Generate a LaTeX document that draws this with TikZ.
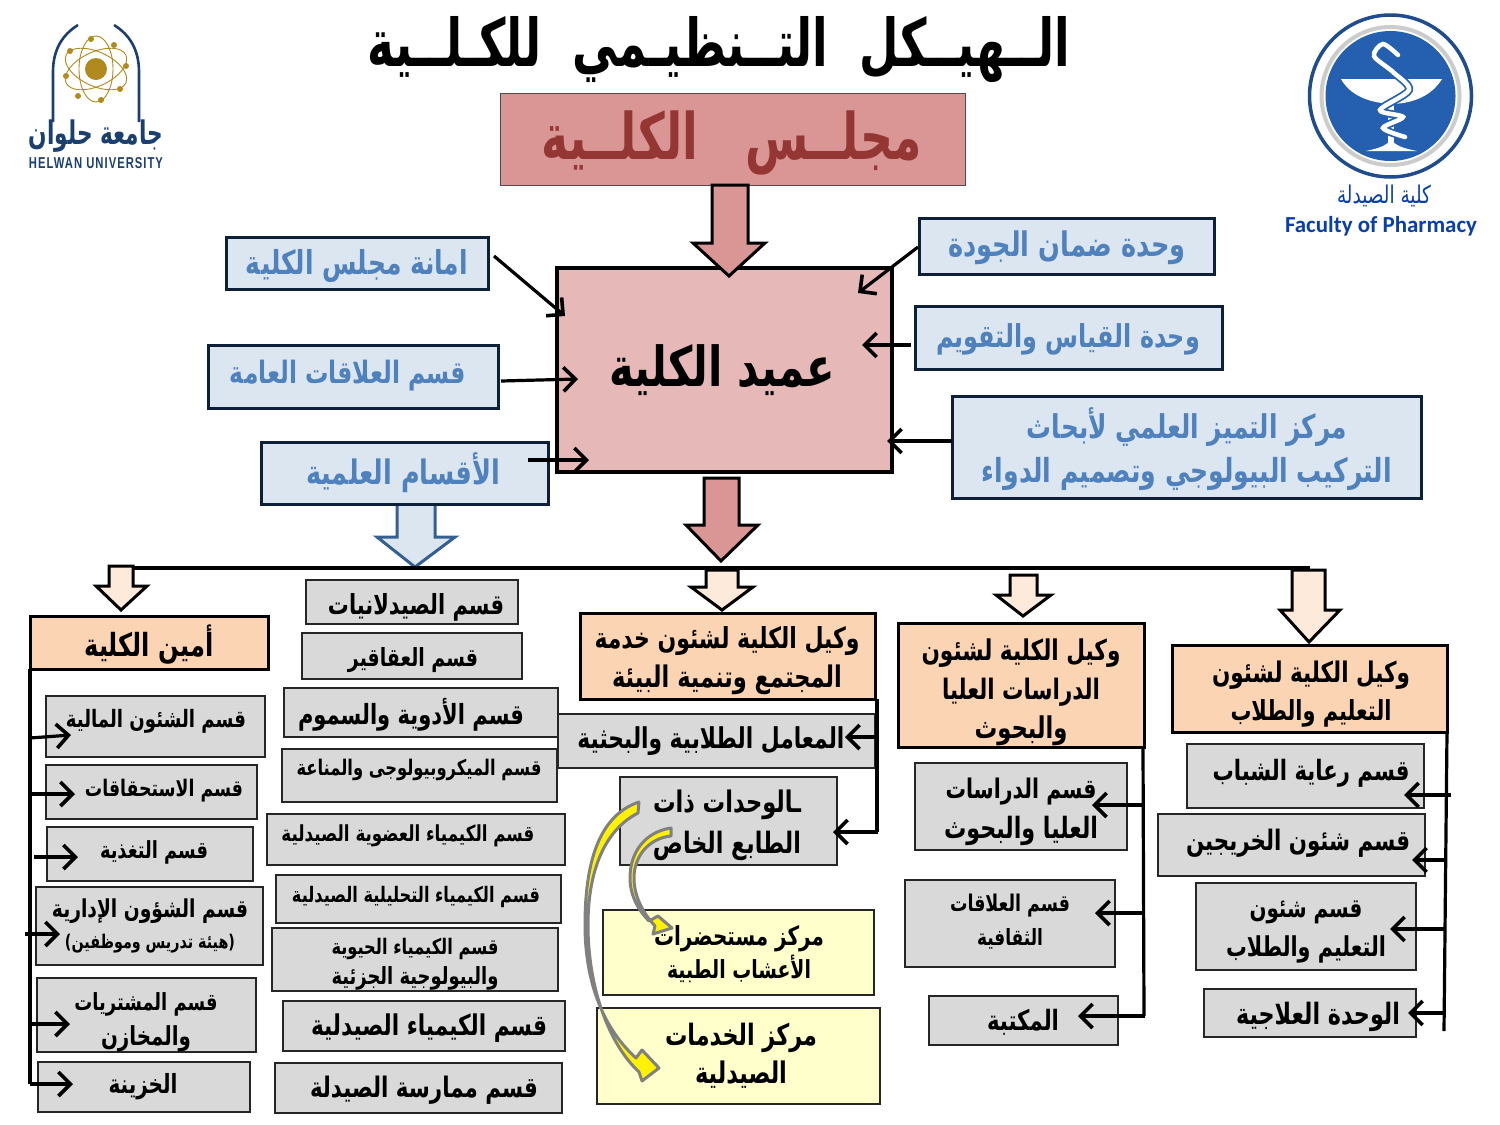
\documentclass[tikz,border=0pt]{standalone}
\usepackage{fontspec}
\usepackage{graphicx}
\usetikzlibrary{arrows.meta}
\TeXXeTstate=1
\newfontfamily\arabicfont[Script=Arabic]{DejaVu Sans}
\newfontfamily\cfont{Carlito}
\newfontfamily\lsfont[LetterSpace=9]{Liberation Sans}
\definecolor{rosefill}{HTML}{D99694}
\definecolor{deanfill}{HTML}{E6B8B7}
\definecolor{bluefill}{HTML}{DCE6F1}
\definecolor{bluetext}{HTML}{4F81BD}
\definecolor{blueedge}{HTML}{365F91}
\definecolor{darkred}{HTML}{943634}
\definecolor{orangefill}{HTML}{FBD4B4}
\definecolor{paleorange}{HTML}{FDEADA}
\definecolor{greyfill}{HTML}{D9D9D9}
\definecolor{yellowfill}{HTML}{FFFFCC}
\definecolor{navy}{HTML}{1B3F6E}
\definecolor{gold}{HTML}{B08A1E}
\definecolor{royal}{HTML}{255FB0}
\definecolor{facblue}{HTML}{0B3FA8}
\newcommand{\arb}[1]{{\arabicfont\fontsize{20}{24}\selectfont\bfseries #1}}
\newcommand{\arn}[1]{{\arabicfont\fontsize{20}{24}\selectfont #1}}
\newcommand{\fitb}[2]{\resizebox{#1pt}{!}{\scalebox{1}[1.32]{\arb{#2}}}}
\newcommand{\fitn}[2]{\resizebox{#1pt}{!}{\scalebox{1}[1.32]{\arn{#2}}}}
\newcommand{\fits}[3]{\resizebox{#2pt}{!}{\scalebox{1}[#1]{\arb{#3}}}}
\newcommand{\rows}[2]{\vbox{\baselineskip=#1pt\lineskiplimit=-1000pt\halign{\hfil##\hfil\cr #2}}}
\newcommand{\bx}[6]{%
  \pgfmathsetmacro\bxw{#5-#3}\pgfmathsetmacro\bxh{#6-#4}%
  \node[#2,minimum width=\bxw pt,minimum height=\bxh pt] (#1) at ({(#3+#5)/2},{(#4+#6)/2}) {};}
\newcommand{\conn}[5]{%
  \coordinate (#1-a) at (#2,#3); \coordinate (#1-b) at (#4,#5);
  \draw[linkline] (#1-a) -- (#1-b);}
\newcommand{\blockarrow}[9]{% style, name, x1,x2,ytop,xh1,xh2,yhead,tip
  \coordinate (#2) at (#3,#5);
  \draw[#1] (#3,#5) -- (#3,#8) -- (#6,#8) -- #9 -- (#7,#8) -- (#4,#8) -- (#4,#5) -- cycle;}
\tikzset{
  boxbase/.style={inner sep=0pt,outer sep=0pt},
  council/.style={boxbase,draw=black!70,line width=1pt,fill=rosefill},
  dean/.style={boxbase,draw=black,line width=3.5pt,fill=deanfill},
  unit/.style={boxbase,draw=navy!50!black,line width=3pt,fill=bluefill},
  vice/.style={boxbase,draw=black,line width=3pt,fill=orangefill},
  dept/.style={boxbase,draw=black!85,line width=1.4pt,fill=greyfill},
  centre/.style={boxbase,draw=black!85,line width=1.4pt,fill=yellowfill},
  txt/.style={inner sep=0pt,outer sep=0pt,text=black},
  bluetxt/.style={txt,text=bluetext},
  linkline/.style={line width=3.2pt,draw=black,-{Straight Barb[length=12pt,width=24pt,line width=3.6pt]}},
  branch/.style={line width=3.2pt,draw=black},
  rosearrow/.style={draw=black,line width=3pt,fill=rosefill,line join=miter},
  palearrow/.style={draw=black,line width=3pt,fill=paleorange,line join=miter},
  bluearrow/.style={draw=blueedge,line width=3pt,fill=bluefill,line join=miter},
  curvearrow/.style={draw=black!50,line width=3pt,fill=yellow,line join=round},
  orbit/.style={draw=gold,line width=0.9pt},
  electron/.style={fill=gold},
  snake/.style={draw=white,line width=4.5pt,line cap=round}
}
\begin{document}
\begin{tikzpicture}[x=1pt,y=-1pt]
\useasboundingbox (0,0) rectangle (1500,1125);
\fill[white] (0,0) rectangle (1500,1125);

% left logo
\draw[navy,line width=2.6pt] (78,25) .. controls (62,35) and (53,50) .. (53,72) -- (53,122);
\draw[navy,line width=2.6pt] (114,25) .. controls (130,35) and (139,50) .. (139,72) -- (139,122);
\fill[gold] (96,69) circle (11);
\foreach \a in {25,-25,90}{\draw[orbit,rotate around={\a:(96,69)}] (96,69) ellipse (33 and 17);}
\foreach \p in {(91,39),(114,45),(126,66),(120,89),(101,100),(78,96),(66,76),(70,51)}{\fill[electron] \p circle (3);}
\node[txt,text=navy] (huar) at (96,136) {\fits{1.5}{134}{\beginR جامعة حلوان\endR}};
\node[txt,text=navy] (huen) at (96,163) {\resizebox{134pt}{11pt}{\fontsize{14}{16}\lsfont\bfseries HELWAN UNIVERSITY}};

% right logo
\fill[white] (1390.5,96) circle (82);
\draw[royal!80!black,line width=3.5pt] (1390.5,96) circle (81);
\draw[black!20,line width=4pt] (1390.5,96) circle (69);
\fill[royal] (1390.5,96) circle (65);
\fill[white] (1341,79) -- (1442,79) .. controls (1432,95) and (1415,103) .. (1393,104) .. controls (1368,103) and (1350,95) .. (1341,79) -- cycle;
\fill[white] (1388,100) rectangle (1394,146);
\fill[white] (1366,151) .. controls (1380,148) and (1385,146) .. (1391,140) .. controls (1397,146) and (1402,148) .. (1417,151) -- cycle;
\draw[snake,royal,line width=8pt] plot[smooth] coordinates {(1398,55) (1383,44) (1374,56) (1393,72) (1409,90) (1380,110) (1403,117) (1383,128) (1405,137)};
\draw[snake] plot[smooth] coordinates {(1398,55) (1383,44) (1374,56) (1393,72) (1409,90) (1380,110) (1403,117) (1383,128) (1405,137)};
\node[txt,text=facblue] (fac-ar) at (1384,196) {\fitn{94}{\beginR كلية الصيدلة\endR}};
\node[txt,text=facblue] (fac-en) at (1381,226) {\resizebox{192pt}{!}{\cfont\bfseries Faculty of Pharmacy}};

% title
\node[txt] (title) at (719,50) {\fits{1.45}{702}{\beginR الــهيــكل\ \ التــنظيـمي\ \ للكـلــية\endR}};

% council and dean
\bx{council}{council}{500}{93}{965}{185}
\node[txt,text=darkred] (council-t) at (732,143) {\fits{1.4}{380}{\beginR مجلــس\ \ \ الكلــية\endR}};
\bx{dean}{dean}{557}{268}{892}{472}
\node[txt] (dean-t) at (722,370) {\fitb{226}{\beginR عميد الكلية\endR}};

% block arrows
\blockarrow{rosearrow}{ar-council}{712}{748}{185}{693}{765}{243}{(729,276)}
\blockarrow{bluearrow}{ar-acad}{397}{435}{503}{377}{455}{537}{(415,567)}
\blockarrow{rosearrow}{ar-dean}{704}{739}{478}{686}{758}{525}{(721,561)}

% blue units
\bx{amana}{unit}{226}{237}{488}{289}
\node[bluetxt] (amana-t) at (357,266) {\fitb{222}{\beginR امانة مجلس الكلية\endR}};
\bx{pr}{unit}{208}{345}{498}{408}
\node[bluetxt] (pr-t) at (348,376) {\fitb{236}{\beginR قسم العلاقات العامة\endR}};
\bx{acad}{unit}{261}{442}{548}{504}
\node[bluetxt] (acad-t) at (403,473) {\fitb{194}{\beginR الأقسام العلمية\endR}};
\bx{quality}{unit}{919}{218}{1214}{274}
\node[bluetxt] (quality-t) at (1067,248) {\fitb{237}{\beginR وحدة ضمان الجودة\endR}};
\bx{measure}{unit}{915}{306}{1222}{369}
\node[bluetxt] (measure-t) at (1068,339) {\fitb{264}{\beginR وحدة القياس والتقويم\endR}};
\bx{excel}{unit}{952}{396}{1421}{498}
\node[bluetxt] (excel-t) at (1187,449) {\rows{44}{\fitb{320}{\beginR مركز التميز العلمي لأبحاث\endR}\cr\fitb{410}{\beginR التركيب البيولوجي وتصميم الدواء\endR}\cr}};

% dean connectors
\conn{c1}{494}{256}{565}{316}
\conn{c2}{501}{381}{578}{379}
\conn{c3}{528}{460}{589}{460}
\conn{c4}{918}{247}{858}{293}
\conn{c5}{911}{345}{862}{345}
\conn{c6}{952}{441}{887}{441}

% lower trunk and pale arrows
\coordinate (trunk-l) at (133,568); \coordinate (trunk-r) at (1310,568);
\blockarrow{palearrow}{ar-sec}{109}{133}{566}{96}{147}{586}{(121,610)}
\blockarrow{palearrow}{ar-serv}{706}{738}{570}{691}{753}{587}{(722,610)}
\blockarrow{palearrow}{ar-pg}{1010}{1037}{575}{996}{1051}{595}{(1023,616)}
\blockarrow{palearrow}{ar-stud}{1292}{1325}{570}{1280}{1340}{610}{(1309,642)}
\draw[line width=4.5pt] (trunk-l) -- (trunk-r);

% vice boxes
\bx{sec}{vice}{30}{616}{268}{669}
\node[txt] (sec-t) at (149,645) {\fitb{129}{\beginR أمين الكلية\endR}};
\bx{serv}{vice}{580}{613}{875}{699}
\node[txt] (serv-t) at (727,661) {\rows{39}{\fitb{265}{\beginR وكيل الكلية لشئون خدمة\endR}\cr\fitb{230}{\beginR المجتمع وتنمية البيئة\endR}\cr}};
\bx{pg}{vice}{898}{623}{1144}{747}
\node[txt] (pg-t) at (1021,692) {\rows{39}{\fitb{199}{\beginR وكيل الكلية لشئون\endR}\cr\fitb{158}{\beginR الدراسات العليا\endR}\cr\fitb{93}{\beginR والبحوث\endR}\cr}};
\bx{stud}{vice}{1172}{645}{1447}{732}
\node[txt] (stud-t) at (1311,694) {\rows{38}{\fitb{198}{\beginR وكيل الكلية لشئون\endR}\cr\fitb{161}{\beginR التعليم والطلاب\endR}\cr}};

% left column
\bx{l1}{dept}{46}{696}{265}{757}
\node[txt] (l1-t) at (156,721) {\fitb{180}{\beginR قسم الشئون المالية\endR}};
\bx{l2}{dept}{46}{765}{257}{819}
\node[txt] (l2-t) at (164,791) {\fitb{158}{\beginR قسم الاستحقاقات\endR}};
\bx{l3}{dept}{47}{827}{253}{881}
\node[txt] (l3-t) at (154,852) {\fitb{108}{\beginR قسم التغذية\endR}};
\bx{l4}{dept}{36}{887}{263}{965}
\node[txt] (l4-t) at (150,926) {\rows{31}{\fitb{196}{\beginR قسم الشؤون الإدارية\endR}\cr\fitb{170}{\beginR (هيئة تدريس وموظفين)\endR}\cr}};
\bx{l5}{dept}{37}{978}{256}{1052}
\node[txt] (l5-t) at (146,1022) {\rows{35}{\fitb{143}{\beginR قسم المشتريات\endR}\cr\fitb{90}{\beginR والمخازن\endR}\cr}};
\bx{l6}{dept}{38}{1062}{250}{1112}
\node[txt] (l6-t) at (143,1087) {\fitb{69}{\beginR الخزينة\endR}};

% middle column
\bx{m1}{dept}{306}{580}{518}{624}
\node[txt] (m1-t) at (416,607) {\fitb{176}{\beginR قسم الصيدلانيات\endR}};
\bx{m2}{dept}{302}{633}{522}{679}
\node[txt] (m2-t) at (413,660) {\fitb{130}{\beginR قسم العقاقير\endR}};
\bx{m3}{dept}{284}{688}{558}{737}
\node[txt] (m3-t) at (411,715) {\fitb{226}{\beginR قسم الأدوية والسموم\endR}};
\bx{m4}{dept}{282}{749}{557}{802}
\node[txt] (m4-t) at (419,770) {\fitb{245}{\beginR قسم الميكروبيولوجى والمناعة\endR}};
\bx{m5}{dept}{267}{814}{565}{865}
\node[txt] (m5-t) at (408,836) {\fitb{253}{\beginR قسم الكيمياء العضوية الصيدلية\endR}};
\bx{m6}{dept}{276}{875}{561}{923}
\node[txt] (m6-t) at (416,897) {\fitb{248}{\beginR قسم الكيمياء التحليلية الصيدلية\endR}};
\bx{m7}{dept}{272}{928}{558}{991}
\node[txt] (m7-t) at (415,964) {\rows{30}{\fitb{167}{\beginR قسم الكيمياء الحيوية\endR}\cr\fitb{167}{\beginR والبيولوجية الجزئية\endR}\cr}};
\bx{m8}{dept}{283}{1001}{565}{1051}
\node[txt] (m8-t) at (429,1028) {\fitb{236}{\beginR قسم الكيمياء الصيدلية\endR}};
\bx{m9}{dept}{275}{1063}{562}{1113}
\node[txt] (m9-t) at (424,1090) {\fitb{228}{\beginR قسم ممارسة الصيدلة\endR}};

% service column
\bx{s1}{dept}{558}{714}{875}{768}
\node[txt] (s1-t) at (711,741) {\fitb{267}{\beginR المعامل الطلابية والبحثية\endR}};
\bx{s2}{dept}{620}{777}{837}{865}
\node[txt] (s2-t) at (727,825) {\rows{41}{\fitb{148}{\beginR ـالوحدات ذات\endR}\cr\fitb{148}{\beginR الطابع الخاص\endR}\cr}};
\bx{y1}{centre}{603}{910}{874}{995}
\node[txt] (y1-t) at (739,954) {\rows{33}{\fitb{170}{\beginR مركز مستحضرات\endR}\cr\fitb{144}{\beginR الأعشاب الطبية\endR}\cr}};
\bx{y2}{centre}{597}{1008}{880}{1104}
\node[txt] (y2-t) at (741,1056) {\rows{38}{\fitb{152}{\beginR مركز الخدمات\endR}\cr\fitb{92}{\beginR الصيدلية\endR}\cr}};

% pg column
\bx{p1}{dept}{915}{763}{1127}{850}
\node[txt] (p1-t) at (1021,812) {\rows{40}{\fitb{151}{\beginR قسم الدراسات\endR}\cr\fitb{154}{\beginR العليا والبحوث\endR}\cr}};
\bx{p2}{dept}{905}{880}{1115}{967}
\node[txt] (p2-t) at (1010,922) {\rows{34}{\fitb{120}{\beginR قسم العلاقات\endR}\cr\fitb{66}{\beginR الثقافية\endR}\cr}};
\bx{p3}{dept}{929}{996}{1118}{1045}
\node[txt] (p3-t) at (1023,1022) {\fitb{72}{\beginR المكتبة\endR}};

% student column
\bx{t1}{dept}{1187}{744}{1424}{808}
\node[txt] (t1-t) at (1311,773) {\fitb{197}{\beginR قسم رعاية الشباب\endR}};
\bx{t2}{dept}{1158}{814}{1425}{876}
\node[txt] (t2-t) at (1298,843) {\fitb{224}{\beginR قسم شئون الخريجين\endR}};
\bx{t3}{dept}{1196}{883}{1416}{970}
\node[txt] (t3-t) at (1306,932) {\rows{39}{\fitb{113}{\beginR قسم شئون\endR}\cr\fitb{160}{\beginR التعليم والطلاب\endR}\cr}};
\bx{t4}{dept}{1204}{989}{1416}{1037}
\node[txt] (t4-t) at (1318,1017) {\fitb{164}{\beginR الوحدة العلاجية\endR}};

% curved arrows
\draw[curvearrow] (639,802) .. controls (600,815) and (585,860) .. (585,925) .. controls (585,985) and (605,1030) .. (636,1058) -- (642,1050) -- (659,1068) -- (642,1081) -- (639,1072) .. controls (610,1045) and (588,990) .. (588,925) .. controls (588,870) and (605,830) .. (638,813) -- cycle;
\draw[curvearrow] (671,828) .. controls (645,832) and (630,852) .. (630,878) .. controls (630,897) and (640,912) .. (649,921) -- (658,916) -- (672,928) -- (653,934) -- (655,926) .. controls (642,912) and (634,895) .. (634,878) .. controls (634,855) and (650,838) .. (671,836) -- cycle;

% branch lines
\coordinate (bl-top) at (30,669); \coordinate (bl-bot) at (30,1084);
\draw[branch] (bl-top) -- (bl-bot);
\conn{a1}{30}{738}{71}{735}
\conn{a2}{30}{794}{75}{794}
\conn{a3}{34}{857}{78}{857}
\conn{a4}{25}{934}{60}{934}
\conn{a5}{30}{1024}{70}{1024}
\conn{a6}{30}{1084}{73}{1084}
\coordinate (bs-top) at (877,699); \coordinate (bs-bot) at (877,832);
\draw[branch] (bs-top) -- (bs-bot);
\conn{a7}{877}{737}{845}{737}
\conn{a8}{878}{832}{833}{832}
\coordinate (bp-top) at (1143,747); \coordinate (bp-bot) at (1144,1016);
\draw[branch] (bp-top) -- (bp-bot);
\conn{a9}{1143}{805}{1092}{805}
\conn{a10}{1143}{913}{1095}{913}
\conn{a11}{1145}{1016}{1078}{1016}
\coordinate (bt-top) at (1447,732); \coordinate (bt-bot) at (1444,1031);
\draw[branch] (bt-top) -- (bt-bot);
\conn{a12}{1451}{795}{1404}{795}
\conn{a13}{1445}{860}{1412}{860}
\conn{a14}{1445}{929}{1390}{929}
\conn{a15}{1445}{1013}{1408}{1013}
\end{tikzpicture}
\end{document}
